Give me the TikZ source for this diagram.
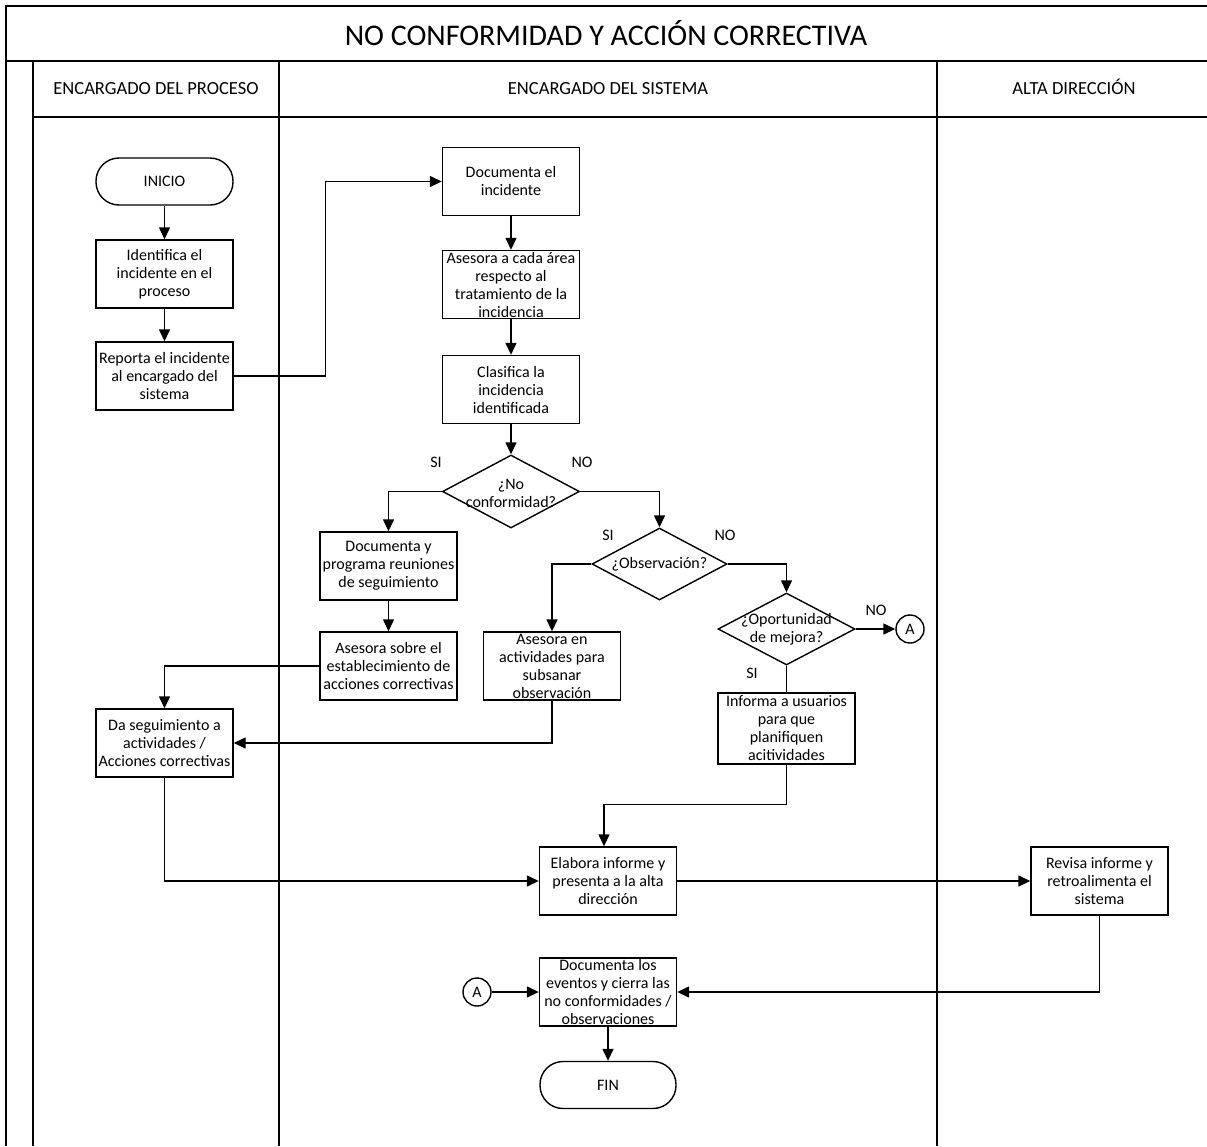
\documentclass[tikz,border=0pt]{standalone}
\usepackage{fontspec}
\setmainfont{Carlito}
\usepackage{tikz}
\usetikzlibrary{shapes,arrows,arrows.meta,positioning,calc}

\begin{document}
\begin{tikzpicture}[x=1pt, y=-1pt,
    font=\fontsize{16}{18}\selectfont,
    lane/.style={line width=1.9pt},
    lanetitle/.style={font=\fontsize{18.5}{22}\selectfont, text height=13pt, text depth=3pt},
    block/.style={rectangle, draw, line width=1.4pt, minimum width=137pt, minimum height=68pt, align=center, inner xsep=1pt, inner ysep=0pt},
    terminal/.style={rectangle, rounded corners=23pt, draw, line width=1.4pt, minimum width=137pt, minimum height=47pt},
    decision/.style={diamond, draw, line width=1.4pt, minimum width=137pt, minimum height=73pt, inner sep=0pt},
    connector/.style={circle, draw, line width=1.4pt, minimum size=28pt, inner sep=0pt},
    arrow/.style={line width=1.4pt, -{Triangle[length=12pt,width=11pt]}},
    line/.style={line width=1.4pt}]

    \useasboundingbox (0,0) rectangle (1207,1146);

    % frame and swimlanes
    \draw[lane] (6,1146) -- (6,6) -- (1207,6);
    \draw[lane] (6,61) -- (1207,61);
    \draw[lane] (33,1146) -- (33,61);
    \draw[lane] (33,117) -- (1207,117);
    \draw[lane] (279,61) -- (279,1146);
    \draw[lane] (937,61) -- (937,1146);

    \node[font=\fontsize{30}{34}\selectfont] (title) at (606,33) {NO CONFORMIDAD Y ACCIÓN CORRECTIVA};
    \node[lanetitle] (lproceso) at (156,89) {ENCARGADO DEL PROCESO};
    \node[lanetitle] (lsistema) at (608,89) {ENCARGADO DEL SISTEMA};
    \node[lanetitle] (ldireccion) at (1074,89) {ALTA DIRECCIÓN};

    % process owner
    \node[terminal] (inicio) at (164.5,181.5) {INICIO};
    \node[block] (identifica) at (164.5,274) {Identifica el\\incidente en el\\proceso};
    \node[block] (reporta) at (164.5,376) {Reporta el incidente\\al encargado del\\sistema};
    \node[block] (seguim) at (164.5,743) {Da seguimiento a\\actividades /\\Acciones correctivas};

    % system owner
    \node[block] (docinc) at (511,181.5) {Documenta el\\incidente};
    \node[block] (asecada) at (511,284.5) {Asesora a cada área\\respecto al\\tratamiento de la\\incidencia};
    \node[block] (clasifica) at (511,389.5) {Clasifica la\\incidencia\\identificada};
    \node[decision] (noconf) at (511,491.5) {};
    \node[align=center] (noconf-txt) at (511,493) {¿No\\conformidad?};
    \node (noconf-si) at (436,462) {SI};
    \node (noconf-no) at (582,462) {NO};

    \node[block] (docprog) at (388.5,566) {Documenta y\\programa reuniones\\de seguimiento};
    \node[block] (asesobre) at (388.5,666) {Asesora sobre el\\establecimiento de\\acciones correctivas};

    \node[decision, minimum width=135pt, minimum height=72pt] (observ) at (659.5,564) {};
    \node (observ-txt) at (observ) {¿Observación?};
    \node (observ-si) at (608,535) {SI};
    \node (observ-no) at (725,535) {NO};

    \node[block] (asesobs) at (552,666) {Asesora en\\actividades para\\subsanar\\observación};

    \node[decision, minimum height=72pt] (oportun) at (786.5,629) {};
    \node[align=center] (oportun-txt) at (oportun) {¿Oportunidad\\de mejora?};
    \node (oportun-no) at (876,610) {NO};
    \node (oportun-si) at (752,673) {SI};
    \node[connector] (conA1) at (910,629) {A};

    \node[block, minimum height=71pt] (informa) at (786.5,728.5) {Informa a usuarios\\para que\\planifiquen\\acitividades};

    \node[block] (elabora) at (608,881) {Elabora informe y\\presenta a la alta\\dirección};
    \node[block] (cierra) at (608,992) {Documenta los\\eventos y cierra las\\no conformidades /\\observaciones};
    \node[connector] (conA2) at (477,992) {A};
    \node[terminal, minimum width=136pt] (fin) at (608,1085) {FIN};

    % top management
    \node[block] (revisa) at (1099.5,881) {Revisa informe y\\retroalimenta el\\sistema};

    \draw[arrow] (inicio) -- (identifica);
    \draw[arrow] (identifica) -- (reporta);
    \draw[arrow] (reporta.east) -- ++(92,0) |- (docinc.west);
    \draw[arrow] (docinc) -- (asecada);
    \draw[arrow] (asecada) -- (clasifica);
    \draw[arrow] (clasifica) -- (noconf.north);
    \draw[arrow] (noconf.west) -| (docprog.north);
    \draw[arrow] (noconf.east) -| (observ.north);
    \draw[arrow] (docprog) -- (asesobre);
    \draw[arrow] (asesobre.west) -| (seguim.north);
    \draw[arrow] (observ.west) -| (asesobs.north);
    \draw[arrow] (observ.east) -| (oportun.north);
    \draw[arrow] (oportun.east) -- (conA1.west);
    \draw[line] (oportun.south) -- (informa.north);
    \draw[arrow] (asesobs.south) |- (seguim.east);
    \draw[arrow] (informa.south) -- ++(0,40) -| ([xshift=-4pt]elabora.north);
    \draw[arrow] (seguim.south) |- (elabora.west);
    \draw[arrow] (elabora.east) -- (revisa.west);
    \draw[arrow] (revisa.south) |- (cierra.east);
    \draw[arrow] (conA2.east) -- (cierra.west);
    \draw[arrow] (cierra) -- (fin);
\end{tikzpicture}
\end{document}
